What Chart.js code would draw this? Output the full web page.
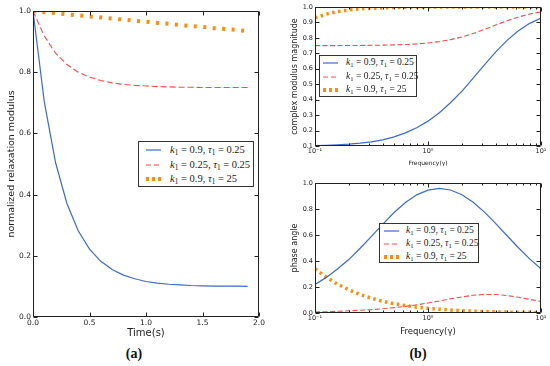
<!DOCTYPE html>
<html>
<head>
<meta charset="utf-8">
<script src="https://cdn.jsdelivr.net/npm/chart.js@4.4.1/dist/chart.umd.min.js"></script>
<style>
  body { margin: 0; background: #fff; }
  #wrap { position: relative; width: 550px; height: 366px; overflow: hidden; font-family: "DejaVu Sans", sans-serif; }
  .box { position: absolute; }
  .cap { position: absolute; font-family: "Liberation Serif", serif; font-weight: bold; font-size: 14px; color: #111; transform: translate(-50%, -50%); }
  .legend { position: absolute; box-sizing: border-box; border: 1px solid #333; background: #fff; font-family: "Liberation Serif", serif; color: #222; }
  .legend svg { position: absolute; }
  .legend span { position: absolute; white-space: nowrap; line-height: 1; transform: translateY(-50%); }
  .legend sub { font-size: 70%; vertical-align: -0.3em; line-height: 0; }
</style>
</head>
<body>
<div id="wrap">
  <div class="box" style="left:0;top:0;width:275px;height:345px"><canvas id="relax"></canvas></div>
  <div class="box" style="left:280px;top:0;width:270px;height:176px"><canvas id="mag"></canvas></div>
  <div class="box" style="left:280px;top:176px;width:270px;height:170px"><canvas id="phase"></canvas></div>
  <div class="cap" style="left:134px;top:354px">(a)</div>
  <div class="cap" style="left:418px;top:354px">(b)</div>
</div>
<script>
// series parameters (legend)
const k1Values = ['0.9', '0.25', '0.9'];
const tau1Values = ['0.25', '0.25', '25'];

// (a) relaxation modulus vs time
const timeS = [0, 0.1, 0.2, 0.3, 0.4, 0.5, 0.6, 0.7, 0.8, 0.9, 1.0, 1.1, 1.2, 1.3, 1.4, 1.5, 1.6, 1.7, 1.8, 1.9];
const relaxBlue = [1.0, 0.703, 0.504, 0.371, 0.282, 0.222, 0.182, 0.155, 0.137, 0.125, 0.116, 0.111, 0.107, 0.105, 0.103, 0.102, 0.101, 0.101, 0.101, 0.100];
const relaxRed = [1.0, 0.918, 0.862, 0.825, 0.800, 0.784, 0.773, 0.765, 0.760, 0.757, 0.755, 0.753, 0.752, 0.751, 0.751, 0.750, 0.750, 0.750, 0.750, 0.750];
const relaxOrange = [1.0, 0.996, 0.993, 0.989, 0.986, 0.982, 0.979, 0.975, 0.972, 0.968, 0.965, 0.961, 0.958, 0.954, 0.951, 0.948, 0.944, 0.941, 0.938, 0.934];

// (b) complex modulus magnitude and phase vs frequency
const freq = [0.1, 0.126, 0.158, 0.2, 0.251, 0.316, 0.398, 0.501, 0.631, 0.794, 1, 1.26, 1.58, 2, 2.51, 3.16, 3.98, 5.01, 6.31, 7.94, 10];
const magBlue = [0.103, 0.105, 0.108, 0.112, 0.118, 0.127, 0.140, 0.159, 0.185, 0.218, 0.261, 0.315, 0.380, 0.455, 0.539, 0.625, 0.709, 0.784, 0.846, 0.894, 0.929];
const magRed = [0.750, 0.750, 0.750, 0.751, 0.751, 0.752, 0.753, 0.755, 0.757, 0.761, 0.767, 0.776, 0.789, 0.806, 0.828, 0.855, 0.883, 0.911, 0.935, 0.955, 0.969];
const magOrange = [0.929, 0.954, 0.970, 0.981, 0.988, 0.992, 0.995, 0.997, 0.998, 0.999, 0.999, 1.0, 1.0, 1.0, 1.0, 1.0, 1.0, 1.0, 1.0, 1.0, 1.0];
const phaseBlue = [0.220, 0.274, 0.338, 0.413, 0.498, 0.590, 0.684, 0.773, 0.850, 0.909, 0.945, 0.958, 0.946, 0.910, 0.852, 0.776, 0.688, 0.594, 0.502, 0.416, 0.340];
const phaseRed = [0.008, 0.010, 0.013, 0.017, 0.021, 0.026, 0.033, 0.041, 0.051, 0.063, 0.077, 0.092, 0.109, 0.124, 0.136, 0.143, 0.142, 0.134, 0.121, 0.105, 0.089];
const phaseOrange = [0.340, 0.276, 0.222, 0.178, 0.142, 0.113, 0.090, 0.072, 0.057, 0.045, 0.036, 0.029, 0.023, 0.018, 0.014, 0.011, 0.009, 0.007, 0.006, 0.005, 0.004];

// log axis ticks (major labelled, minor blank)
const logTicks = [0.1, 0.2, 0.3, 0.4, 0.5, 0.6, 0.7, 0.8, 0.9, 1, 2, 3, 4, 5, 6, 7, 8, 9, 10];
const logLabels = { '0.1': '10\u207B\u00B9', '1': '10\u2070', '10': '10\u00B9' };

const colors = ['#3a6cd0', '#ff4a4a', '#ff8c10'];
const FONT = '"DejaVu Sans", sans-serif';
const INK = '#222';

Chart.defaults.font.family = FONT;
Chart.defaults.color = INK;

// matplotlib-style frame with inward ticks on all four sides
const frameTicks = {
  id: 'frameTicks',
  afterDatasetsDraw(chart) {
    const { ctx, chartArea: a, scales } = chart;
    const L = Math.round(a.left) + 0.5, R = Math.round(a.right) - 0.5;
    const T = Math.round(a.top) + 0.5, B = Math.round(a.bottom) - 0.5;
    ctx.save();
    ctx.strokeStyle = INK;
    ctx.lineWidth = 1;
    ctx.beginPath();
    scales.x.ticks.forEach(t => {
      const px = Math.round(scales.x.getPixelForValue(t.value)) + 0.5;
      const len = t.label === '' ? 2 : 4;
      ctx.moveTo(px, B); ctx.lineTo(px, B - len);
      ctx.moveTo(px, T); ctx.lineTo(px, T + len);
    });
    scales.y.ticks.forEach(t => {
      const py = Math.round(scales.y.getPixelForValue(t.value)) + 0.5;
      ctx.moveTo(L, py); ctx.lineTo(L + 4, py);
      ctx.moveTo(R, py); ctx.lineTo(R - 4, py);
    });
    ctx.rect(L, T, R - L, B - T);
    ctx.stroke();
    ctx.restore();
  }
};

function pts(xs, ys) {
  return xs.map((x, i) => ({ x: x, y: ys[i] }));
}

function lineSets(xs, series, orangeDash, orangeWidth, redDash) {
  return [
    { data: pts(xs, series[0]), borderColor: colors[0], borderWidth: 1.2 },
    { data: pts(xs, series[1]), borderColor: colors[1], borderWidth: 1.1, borderDash: redDash },
    { data: pts(xs, series[2]), borderColor: colors[2], borderWidth: orangeWidth, borderDash: orangeDash }
  ].map(d => Object.assign(d, { pointRadius: 0, tension: 0, fill: false }));
}

function makeChart(id, cfg) {
  return new Chart(document.getElementById(id).getContext('2d'), {
    type: 'line',
    data: { datasets: cfg.datasets },
    options: {
      responsive: true,
      maintainAspectRatio: false,
      animation: false,
      events: [],
      layout: { padding: cfg.padding },
      plugins: { legend: { display: false }, tooltip: { enabled: false } },
      scales: {
        x: Object.assign({
          grid: { display: false, drawTicks: false },
          border: { display: false },
          title: { display: true, text: cfg.xTitle, color: INK, font: { size: cfg.xTitleSize }, padding: { top: 0, bottom: cfg.xTitlePad } },
          afterFit: s => { s.height = cfg.xHeight; }
        }, cfg.x),
        y: Object.assign({
          grid: { display: false, drawTicks: false },
          border: { display: false },
          title: { display: true, text: cfg.yTitle, color: INK, font: { size: cfg.yTitleSize }, padding: { top: cfg.yTitlePad, bottom: 0 } },
          afterFit: s => { s.width = cfg.yWidth; }
        }, cfg.y)
      }
    },
    plugins: [frameTicks]
  });
}

function linTicks(size, step) {
  return { font: { size: size }, color: INK, padding: 2, maxRotation: 0, autoSkip: false, stepSize: step, callback: v => v.toFixed(1) };
}
function logTickOpts(pad) {
  return { font: { size: 6.5 }, color: INK, padding: pad, maxRotation: 0, autoSkip: false,
    callback: v => logLabels[String(v)] || '' };
}
function logX() {
  return {
    type: 'logarithmic', min: 0.1, max: 10, ticks: logTickOpts(1),
    afterBuildTicks: s => { s.ticks = logTicks.map(v => ({ value: v })); }
  };
}

makeChart('relax', {
  datasets: lineSets(timeS, [relaxBlue, relaxRed, relaxOrange], [3, 6.5], 4, [6, 3]),
  padding: { top: 11, right: 16, left: 0, bottom: 0 },
  xTitle: 'Time(s)', xTitleSize: 10, xTitlePad: 6, xHeight: 28,
  yTitle: 'normalized relaxation modulus', yTitleSize: 9.5, yTitlePad: 6, yWidth: 33,
  x: { type: 'linear', min: 0, max: 2, ticks: linTicks(7.5, 0.5) },
  y: { min: 0, max: 1, ticks: linTicks(7.5, 0.2) }
});

makeChart('mag', {
  datasets: lineSets(freq, [magBlue, magRed, magOrange], [2.5, 3.5], 3.5, [5, 2.5]),
  padding: { top: 7, right: 9, left: 0, bottom: 0 },
  xTitle: 'Frequency(\u03B3)', xTitleSize: 6, xTitlePad: 9, xHeight: 30,
  yTitle: 'complex modulus magnitude', yTitleSize: 8, yTitlePad: 10, yWidth: 35,
  x: logX(),
  y: { min: 0.1, max: 1, ticks: linTicks(6.5, 0.1) }
});

makeChart('phase', {
  datasets: lineSets(freq, [phaseBlue, phaseRed, phaseOrange], [2.5, 3.5], 3.5, [5, 2.5]),
  padding: { top: 7, right: 9, left: 0, bottom: 0 },
  xTitle: 'Frequency(\u03B3)', xTitleSize: 8.5, xTitlePad: 9, xHeight: 33,
  yTitle: 'phase angle', yTitleSize: 8, yTitlePad: 10, yWidth: 35,
  x: logX(),
  y: { min: 0, max: 1, ticks: linTicks(6.5, 0.2) }
});

// legends
const dashSvg = [
  { width: 1.2, dash: '' },
  { width: 1.1, dash: '5 3' },
  { width: 4, dash: '3 3' }
];
function addLegend(pos) {
  const box = document.createElement('div');
  box.className = 'legend';
  box.style.cssText = `left:${pos.left}px;top:${pos.top}px;width:${pos.width}px;height:${pos.height}px;font-size:${pos.font}px`;
  k1Values.forEach((k, i) => {
    const y = pos.row0 + i * pos.rowH;
    const svgNS = 'http://www.w3.org/2000/svg';
    const svg = document.createElementNS(svgNS, 'svg');
    svg.setAttribute('width', 15); svg.setAttribute('height', 6);
    svg.style.left = pos.sampleX + 'px'; svg.style.top = (y - 3) + 'px';
    const ln = document.createElementNS(svgNS, 'line');
    ln.setAttribute('x1', 0); ln.setAttribute('x2', 15); ln.setAttribute('y1', 3); ln.setAttribute('y2', 3);
    ln.setAttribute('stroke', colors[i]);
    ln.setAttribute('stroke-width', dashSvg[i].width);
    if (dashSvg[i].dash) ln.setAttribute('stroke-dasharray', dashSvg[i].dash);
    svg.appendChild(ln);
    box.appendChild(svg);
    const sp = document.createElement('span');
    sp.style.left = pos.textX + 'px'; sp.style.top = y + 'px';
    sp.innerHTML = `<i>k</i><sub>1</sub> = ${k}, <i>\u03C4</i><sub>1</sub> = ${tau1Values[i]}`;
    box.appendChild(sp);
  });
  document.getElementById('wrap').appendChild(box);
}
addLegend({ left: 138, top: 141, width: 116, height: 46, font: 10.5, row0: 8, rowH: 14.5, sampleX: 7, textX: 31 });
addLegend({ left: 319, top: 55, width: 98, height: 42, font: 9.5, row0: 7, rowH: 13.5, sampleX: 3, textX: 26 });
addLegend({ left: 379, top: 223, width: 100, height: 40, font: 9.5, row0: 7, rowH: 13, sampleX: 4, textX: 26 });
</script>
</body>
</html>
